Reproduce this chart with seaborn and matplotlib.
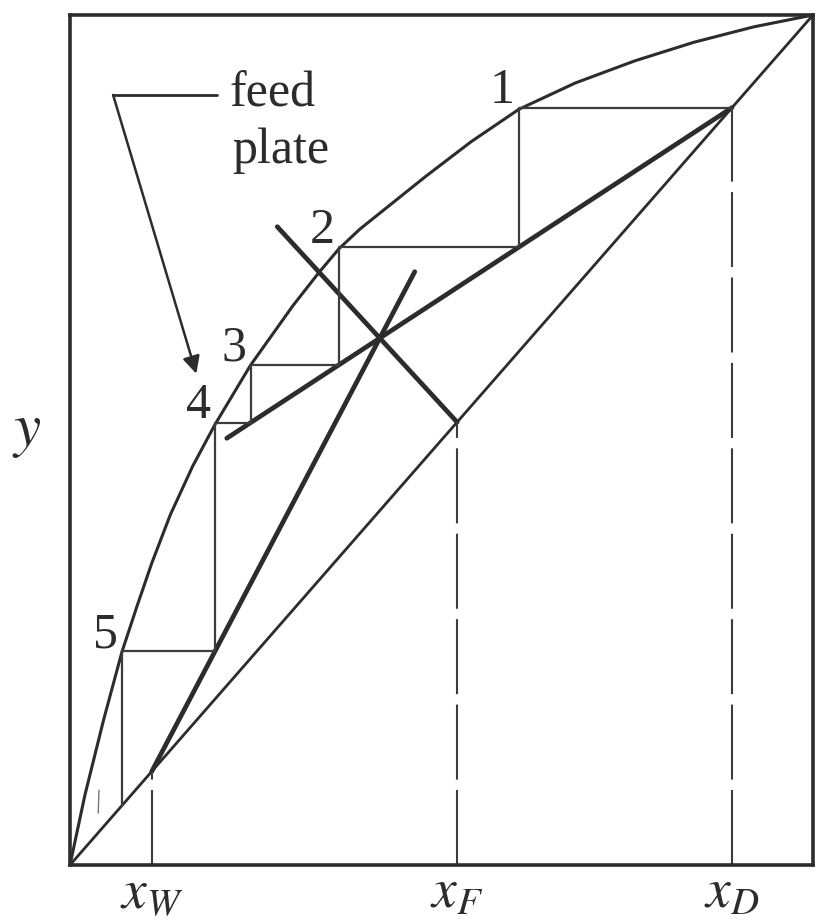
import numpy as np
import matplotlib
matplotlib.use("Agg")
import matplotlib.pyplot as plt
import seaborn as sns

# --- equilibrium curve (mole fraction in liquid x, vapour y) ---
eq_x = [0.0, 0.020, 0.045, 0.070, 0.090, 0.110, 0.135, 0.165, 0.195, 0.243,
        0.300, 0.335, 0.362, 0.390, 0.420, 0.480, 0.540, 0.604, 0.680, 0.760,
        0.840, 0.920, 1.0]
eq_y = [0.0, 0.082, 0.170, 0.251, 0.304, 0.355, 0.412, 0.469, 0.518, 0.588,
        0.658, 0.697, 0.725, 0.748, 0.769, 0.811, 0.851, 0.889, 0.920, 0.946,
        0.968, 0.986, 1.0]

# --- compositions ---
x_W, x_F, x_D = 0.110, 0.521, 0.891
rect_slope = 0.572          # L/V above the feed
q_slope = -0.95             # q/(q-1)
rect_lower_x = 0.211        # where the drawn rectifying line stops
strip_upper_x = 0.464       # where the drawn stripping line stops
q_upper_x = 0.279           # where the drawn q-line stops

# --- stepped plates (liquid composition on each plate) ---
plate_x = [0.604, 0.362, 0.243, 0.195, 0.070]
plate_labels = ["1", "2", "3", "4", "5"]
feed_plate = 4
tail_mark_x = [0.038, 0.039]
tail_mark_y = [0.061, 0.088]

tick_pos = [x_W, x_F, x_D]
tick_labels = [r"$x_W$", r"$x_F$", r"$x_D$"]

sns.set_style("white")
plt.rcParams["font.family"] = ["Liberation Serif", "DejaVu Serif"]
plt.rcParams["mathtext.fontset"] = "stix"

ink = "#2c2c2c"
thin_ink = "#3c3c3c"

fig = plt.figure(figsize=(8.19, 9.21), dpi=100)
ax = fig.add_axes([70 / 819, 56 / 921, 743 / 819, 850 / 921])
ax.set_xlim(0, 1)
ax.set_ylim(0, 1)


def rect_line(x):
    return x_D + rect_slope * (x - x_D)


# intersection of rectifying line and q-line
x_int = (x_F * (1 - q_slope) - x_D * (1 - rect_slope)) / (rect_slope - q_slope)
y_int = rect_line(x_int)
strip_slope = (y_int - x_W) / (x_int - x_W)


def strip_line(x):
    return x_W + strip_slope * (x - x_W)


def q_line(x):
    return x_F + q_slope * (x - x_F)


# equilibrium curve and diagonal
sns.lineplot(x=eq_x, y=eq_y, sort=False, estimator=None, ax=ax,
             color=ink, lw=2.2, clip_on=False)
sns.lineplot(x=[0, 1], y=[0, 1], sort=False, estimator=None, ax=ax,
             color=ink, lw=2.0, clip_on=False)

# operating lines and q-line
sns.lineplot(x=[rect_lower_x, x_D], y=[rect_line(rect_lower_x), x_D],
             sort=False, estimator=None, ax=ax, color=ink, lw=3.4)
sns.lineplot(x=[x_W, strip_upper_x], y=[x_W, strip_line(strip_upper_x)],
             sort=False, estimator=None, ax=ax, color=ink, lw=3.4)
sns.lineplot(x=[x_F, q_upper_x], y=[x_F, q_line(q_upper_x)],
             sort=False, estimator=None, ax=ax, color=ink, lw=3.4)

# staircase between operating lines and equilibrium curve
step_x, step_y = [x_D], [x_D]
y_cur = x_D
for n, xp in enumerate(plate_x, start=1):
    step_x.append(xp)
    step_y.append(y_cur)
    op = rect_line(xp) if n < feed_plate else strip_line(xp)
    y_cur = max(op, xp)
    step_x.append(xp)
    step_y.append(y_cur)
sns.lineplot(x=step_x, y=step_y, sort=False, estimator=None, ax=ax,
             color=thin_ink, lw=1.6)
sns.lineplot(x=tail_mark_x, y=tail_mark_y, sort=False, estimator=None, ax=ax,
             color="#777777", lw=1.0)

# plate numbers
step_levels = step_y[1::2]
for xp, yp, lab in zip(plate_x, step_levels, plate_labels):
    ax.annotate(lab, xy=(xp, yp), xytext=(-12, 12), textcoords="offset points",
                ha="center", va="center", fontsize=36, color=ink)

# drop lines to the composition axis
for xv in tick_pos:
    ax.plot([xv, xv], [0, xv], color=thin_ink, lw=1.5,
            linestyle=(0, (36, 5)))

# feed-plate callout
ax.text(0.214, 0.892, "feed", fontsize=36, color=ink, ha="left", va="baseline")
ax.text(0.218, 0.826, "plate", fontsize=36, color=ink, ha="left", va="baseline")
ax.plot([0.058, 0.198], [0.906, 0.906], color=ink, lw=2.0)
ax.annotate("", xy=(0.170, 0.578), xytext=(0.058, 0.906),
            arrowprops=dict(arrowstyle="-|>", color=ink, lw=1.8,
                            mutation_scale=26, shrinkA=0, shrinkB=0))

# axes frame and labels
for sp in ax.spines.values():
    sp.set_visible(True)
    sp.set_color(ink)
    sp.set_linewidth(2.6)
ax.set_xticks(tick_pos)
ax.set_xticklabels(tick_labels, fontsize=40, color=ink)
ax.tick_params(axis="x", length=0, pad=2)
for lbl in ax.get_xticklabels():
    lbl.set_x(lbl.get_position()[0])
ax.set_yticks([])
ax.set_xlabel("")
ax.set_ylabel(r"$y$", fontsize=44, color=ink, rotation=0, va="center", ha="center")
ax.yaxis.set_label_coords(-0.058, 0.509)

fig.savefig("out.png", dpi=100, facecolor="white")
